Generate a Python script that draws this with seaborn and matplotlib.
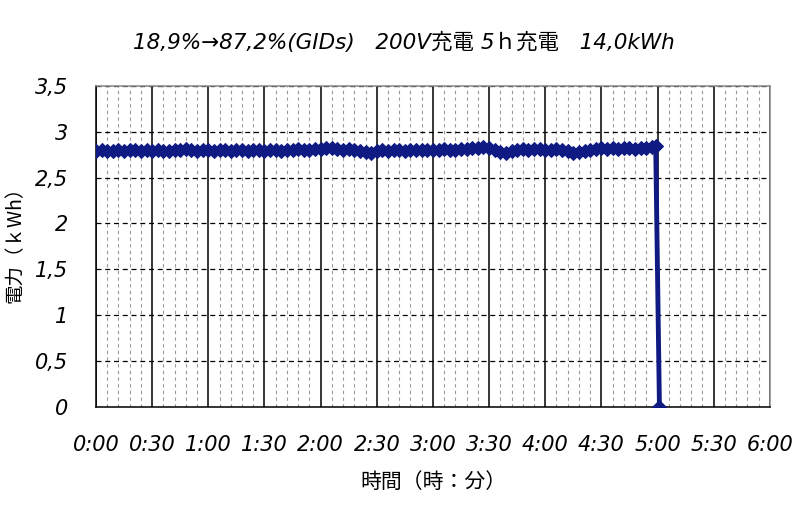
import numpy as np
import matplotlib.pyplot as plt
import matplotlib.ticker as mticker
import seaborn as sns
import pandas as pd

# minutes since start, power (kW)
minutes = list(range(0, 300, 3)) + [299, 301]
power = [
    2.79, 2.80, 2.79, 2.79, 2.80, 2.79, 2.80, 2.80, 2.79, 2.80,
    2.79, 2.80, 2.79, 2.79, 2.80, 2.80, 2.81, 2.80, 2.79, 2.80,
    2.80, 2.79, 2.80, 2.80, 2.79, 2.80, 2.80, 2.79, 2.80, 2.80,
    2.79, 2.80, 2.80, 2.79, 2.80, 2.80, 2.81, 2.80, 2.80, 2.81,
    2.81, 2.82, 2.82, 2.81, 2.80, 2.81, 2.80, 2.79, 2.78, 2.77,
    2.79, 2.80, 2.79, 2.80, 2.80, 2.79, 2.80, 2.80, 2.80, 2.80,
    2.80, 2.80, 2.81, 2.80, 2.80, 2.81, 2.81, 2.82, 2.82, 2.83,
    2.82, 2.80, 2.78, 2.77, 2.79, 2.80, 2.81, 2.80, 2.81, 2.81,
    2.80, 2.80, 2.81, 2.80, 2.79, 2.77, 2.78, 2.79, 2.80, 2.81,
    2.82, 2.81, 2.82, 2.81, 2.82, 2.82, 2.81, 2.82, 2.82, 2.83,
    2.84, 0.0,
]
x_labels = ["0:00", "0:30", "1:00", "1:30", "2:00", "2:30", "3:00",
            "3:30", "4:00", "4:30", "5:00", "5:30", "6:00"]
y_labels = ["0", "0,5", "1", "1,5", "2", "2,5", "3", "3,5"]

title = "18,9%→87,2%(GIDs)   200V充電 5ｈ充電   14,0kWh"

sns.set_style("white")
plt.rcParams['font.family'] = ['DejaVu Sans', 'Noto Sans CJK JP']
plt.rcParams['text.color'] = 'black'
plt.rcParams['axes.labelcolor'] = 'black'
plt.rcParams['xtick.color'] = 'black'
plt.rcParams['ytick.color'] = 'black'

df = pd.DataFrame({"t": minutes, "p": power})

fig = plt.figure(figsize=(8.07, 5.05), dpi=100)
ax = fig.add_axes([0.119, 0.194, 0.835, 0.636])

# grid first so the line sits on top
ax.set_xlim(0, 360)
ax.set_ylim(0, 3.5)
ax.xaxis.set_major_locator(mticker.MultipleLocator(30))
ax.xaxis.set_minor_locator(mticker.MultipleLocator(6))
ax.yaxis.set_major_locator(mticker.MultipleLocator(0.5))
ax.grid(which='minor', axis='x', color='#999999', linestyle=(0, (3, 3)), linewidth=0.8)
ax.grid(which='major', axis='x', color='black', linestyle='-', linewidth=1.1)
ax.grid(which='major', axis='y', color='black', linestyle=(0, (4, 3)), linewidth=0.9)
ax.set_axisbelow(True)

sns.lineplot(data=df, x="t", y="p", ax=ax, color='#0f1a82', linewidth=3.5,
             marker='D', markersize=7.5, markeredgecolor='#0f1a82', zorder=5)

ax.set_xticks(np.arange(0, 361, 30))
ax.set_xticklabels(x_labels, fontsize=15, style='italic')
ax.set_yticks(np.arange(0, 3.51, 0.5))
ax.set_yticklabels(y_labels, fontsize=15, style='italic')
ax.tick_params(axis='both', which='both', length=0)
ax.tick_params(axis='x', pad=20)
ax.tick_params(axis='y', pad=20)

for s in ['left', 'bottom']:
    ax.spines[s].set_color('black')
    ax.spines[s].set_linewidth(1.1)
for s in ['top', 'right']:
    ax.spines[s].set_color('#888888')
    ax.spines[s].set_linewidth(1.1)

ax.set_xlabel("時間（時：分）", fontsize=15, labelpad=12,
              family=['Noto Sans CJK JP'])
ax.set_ylabel("電力（ｋWh）", fontsize=14, family=['Noto Sans CJK JP'],
              va='center')
ax.yaxis.set_label_coords(-0.12, 0.52)
fig.text(0.5, 0.915, title, ha='center', va='center', fontsize=15.5,
         style='italic', family=['DejaVu Sans', 'Noto Sans CJK JP'])

fig.savefig("out.png", dpi=100)
